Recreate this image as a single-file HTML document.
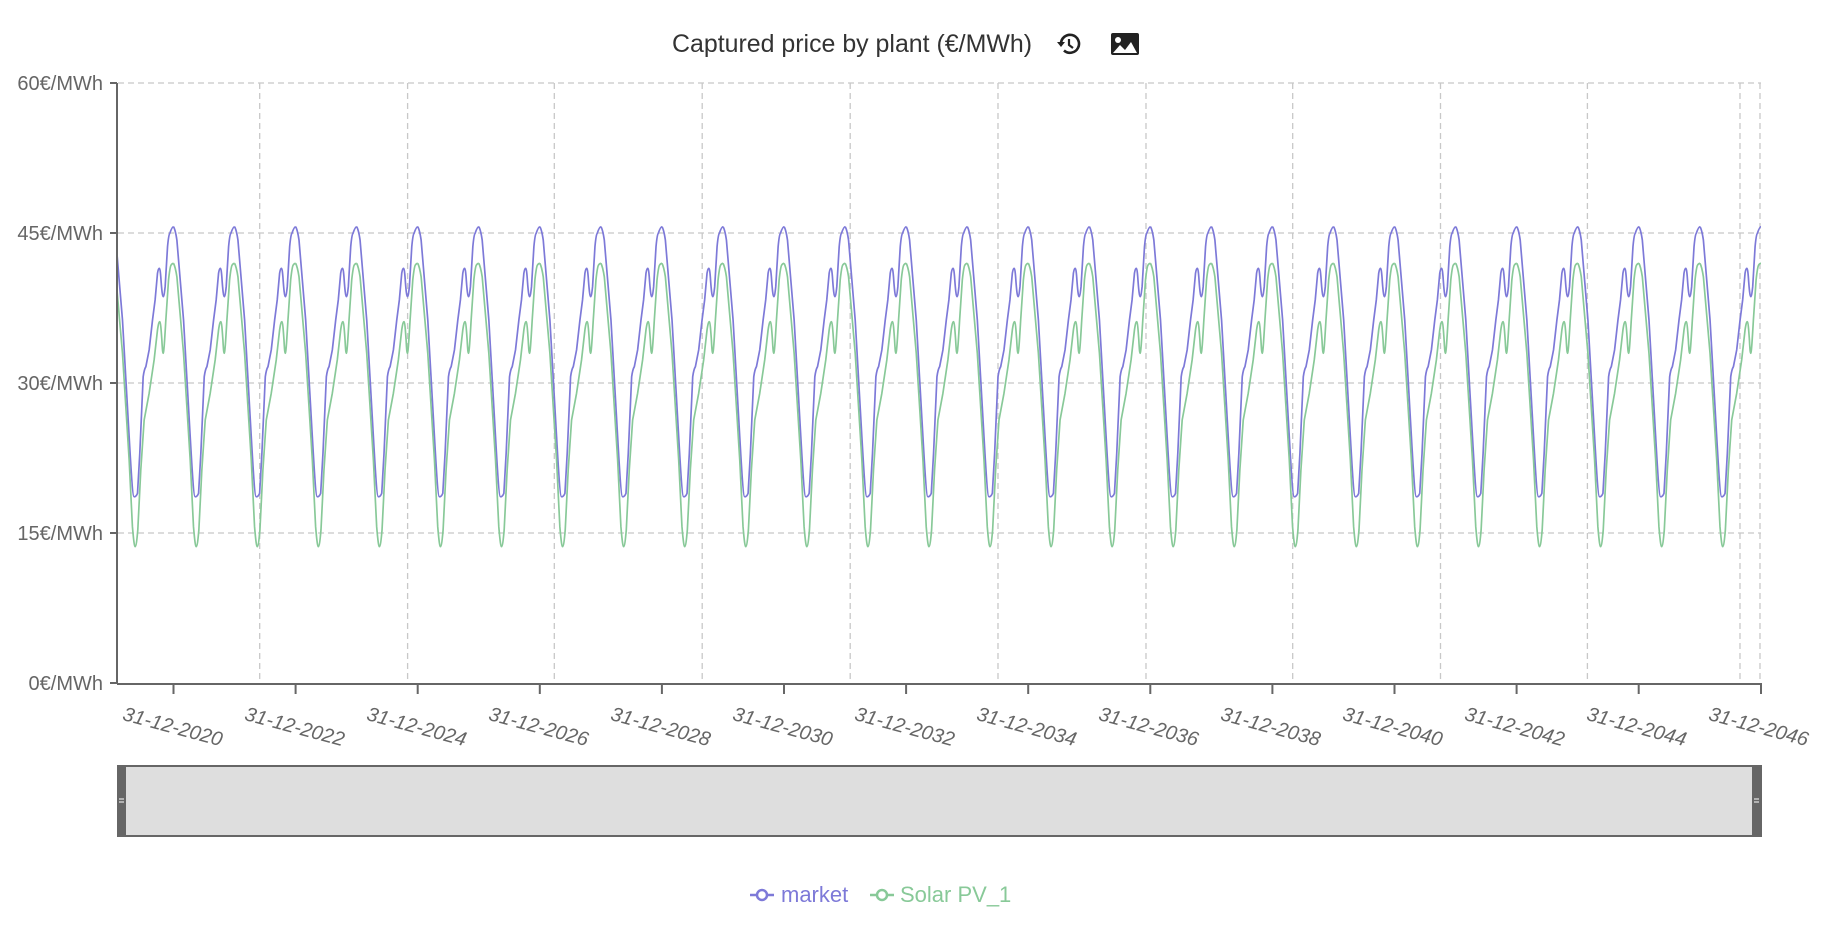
<!DOCTYPE html>
<html><head><meta charset="utf-8"><style>
html,body{margin:0;padding:0;background:#fff;}
svg{display:block;font-family:"Liberation Sans",sans-serif;}
</style></head><body>
<svg width="1826" height="926" viewBox="0 0 1826 926" xmlns="http://www.w3.org/2000/svg">
<defs>
<clipPath id="pc"><rect x="118" y="60" width="1643" height="640"/></clipPath>
<path id="m" fill="none" stroke="#7d79d8" stroke-width="1.7" stroke-linejoin="round" d="M0,226.7 C1.5,229 2.5,234 3.4,240 L10.1,320 L16.8,436.7 C19,475 20.5,496.7 21.8,496.7 C23.5,497 24.5,495 25.2,493.3 L27.5,453.3 L30.9,376.7 C32,369 32.8,368 33.6,366.7 L36.9,350 L40.3,320 L42.9,300 L45.3,273.3 C46,269 46.5,268.3 47,268.3 C47.8,268.5 48.2,272 48.6,276.7 C49.5,290 50.3,296.7 51,296.7 C51.8,296.7 52.4,292 53,286.7 L55.4,246.7 C56.3,237 57,234 57.7,233.3 C59.5,228 60.5,226.7 61.4,226.7"/>
<path id="s" fill="none" stroke="#88c998" stroke-width="1.7" stroke-linejoin="round" d="M0,263.3 C1.5,266 2.5,271 3.4,276.7 L10.1,353.3 L16.8,460 L20.1,526.7 C21.5,543 22.2,546.7 22.8,546.7 C23.8,546.7 24.6,540 25.5,530 L28.5,470 L31.9,420 L36.9,393.3 L41.9,360 L45.3,330 C46.3,323 47,321.7 47.6,321.7 C48.5,322 49.1,332 49.7,340 C50.2,350 50.6,353.3 51,353.3 C51.8,353.3 52.8,335 53.7,320 L56.4,280 C57.5,270 58.2,266 59,265 C60,263.5 60.7,263.3 61.4,263.3"/>
</defs>
<text x="852" y="52" text-anchor="middle" font-size="25" fill="#333" textLength="360" lengthAdjust="spacingAndGlyphs">Captured price by plant (€/MWh)</text>
<g transform="translate(1069,44)" fill="none" stroke="#222" stroke-width="2.6">
<path d="M-8,0 A9,9 0 1 1 -5,6.5"/>
<path d="M0,-5 L0,1 L4,4" stroke-width="2.2"/>
<path d="M-12,-2 L-8,3 L-4,-2" fill="#222" stroke="none"/>
</g>
<g transform="translate(1125,44)">
<rect x="-14" y="-11" width="28" height="22" rx="2" fill="#222"/>
<circle cx="-7" cy="-4" r="3" fill="#fff"/>
<path d="M-12,9 L-5,1 L0,6 L6,-2 L12,9 Z" fill="#fff"/>
</g>
<g stroke="#c8c8c8" stroke-width="1.3" stroke-dasharray="6,4">
<line x1="118" y1="83" x2="1761" y2="83"/>
<line x1="118" y1="233" x2="1761" y2="233"/>
<line x1="118" y1="383" x2="1761" y2="383"/>
<line x1="118" y1="533" x2="1761" y2="533"/>
<line x1="259.7" y1="83" x2="259.7" y2="683"/>
<line x1="407.6" y1="83" x2="407.6" y2="683"/>
<line x1="554.3" y1="83" x2="554.3" y2="683"/>
<line x1="702.2" y1="83" x2="702.2" y2="683"/>
<line x1="850.2" y1="83" x2="850.2" y2="683"/>
<line x1="998" y1="83" x2="998" y2="683"/>
<line x1="1146" y1="83" x2="1146" y2="683"/>
<line x1="1292.7" y1="83" x2="1292.7" y2="683"/>
<line x1="1440.5" y1="83" x2="1440.5" y2="683"/>
<line x1="1587.4" y1="83" x2="1587.4" y2="683"/>
<line x1="1740" y1="83" x2="1740" y2="683"/>
<line x1="1760" y1="83" x2="1760" y2="683"/>
</g>
<g clip-path="url(#pc)">
<g transform="translate(112.44,0) scale(0.99446,1)">
<use href="#m" x="0"/><use href="#m" x="61.4"/><use href="#m" x="122.8"/><use href="#m" x="184.2"/><use href="#m" x="245.6"/><use href="#m" x="307"/><use href="#m" x="368.4"/><use href="#m" x="429.8"/><use href="#m" x="491.2"/><use href="#m" x="552.6"/><use href="#m" x="614"/><use href="#m" x="675.4"/><use href="#m" x="736.8"/><use href="#m" x="798.2"/><use href="#m" x="859.6"/><use href="#m" x="921"/><use href="#m" x="982.4"/><use href="#m" x="1043.8"/><use href="#m" x="1105.2"/><use href="#m" x="1166.6"/><use href="#m" x="1228"/><use href="#m" x="1289.4"/><use href="#m" x="1350.8"/><use href="#m" x="1412.2"/><use href="#m" x="1473.6"/><use href="#m" x="1535"/><use href="#m" x="1596.4"/>
<use href="#s" x="0"/><use href="#s" x="61.4"/><use href="#s" x="122.8"/><use href="#s" x="184.2"/><use href="#s" x="245.6"/><use href="#s" x="307"/><use href="#s" x="368.4"/><use href="#s" x="429.8"/><use href="#s" x="491.2"/><use href="#s" x="552.6"/><use href="#s" x="614"/><use href="#s" x="675.4"/><use href="#s" x="736.8"/><use href="#s" x="798.2"/><use href="#s" x="859.6"/><use href="#s" x="921"/><use href="#s" x="982.4"/><use href="#s" x="1043.8"/><use href="#s" x="1105.2"/><use href="#s" x="1166.6"/><use href="#s" x="1228"/><use href="#s" x="1289.4"/><use href="#s" x="1350.8"/><use href="#s" x="1412.2"/><use href="#s" x="1473.6"/><use href="#s" x="1535"/><use href="#s" x="1596.4"/>
</g>
</g>
<g stroke="#666" stroke-width="2" fill="none">
<line x1="117" y1="83" x2="117" y2="684"/>
<line x1="117" y1="684" x2="1762" y2="684"/>
<line x1="110" y1="83" x2="117" y2="83"/>
<line x1="110" y1="233" x2="117" y2="233"/>
<line x1="110" y1="383" x2="117" y2="383"/>
<line x1="110" y1="533" x2="117" y2="533"/>
<line x1="110" y1="683" x2="117" y2="683"/>
</g>
<g stroke="#666" stroke-width="2">
<line x1="173.5" y1="684" x2="173.5" y2="694"/><line x1="295.6" y1="684" x2="295.6" y2="694"/><line x1="417.7" y1="684" x2="417.7" y2="694"/><line x1="539.8" y1="684" x2="539.8" y2="694"/><line x1="661.9" y1="684" x2="661.9" y2="694"/><line x1="784" y1="684" x2="784" y2="694"/><line x1="906.1" y1="684" x2="906.1" y2="694"/><line x1="1028.2" y1="684" x2="1028.2" y2="694"/><line x1="1150.3" y1="684" x2="1150.3" y2="694"/><line x1="1272.4" y1="684" x2="1272.4" y2="694"/><line x1="1394.5" y1="684" x2="1394.5" y2="694"/><line x1="1516.6" y1="684" x2="1516.6" y2="694"/><line x1="1638.7" y1="684" x2="1638.7" y2="694"/><line x1="1761" y1="684" x2="1761" y2="694"/>
</g>
<g font-size="20" fill="#666" text-anchor="end">
<text x="103" y="90">60€/MWh</text>
<text x="103" y="240">45€/MWh</text>
<text x="103" y="390">30€/MWh</text>
<text x="103" y="540">15€/MWh</text>
<text x="103" y="690">0€/MWh</text>
</g>
<g font-size="20" fill="#666" text-anchor="middle" font-style="italic">
<text transform="translate(171,733) rotate(15)">31-12-2020</text>
<text transform="translate(293,733) rotate(15)">31-12-2022</text>
<text transform="translate(415,733) rotate(15)">31-12-2024</text>
<text transform="translate(537,733) rotate(15)">31-12-2026</text>
<text transform="translate(659,733) rotate(15)">31-12-2028</text>
<text transform="translate(781,733) rotate(15)">31-12-2030</text>
<text transform="translate(903,733) rotate(15)">31-12-2032</text>
<text transform="translate(1025,733) rotate(15)">31-12-2034</text>
<text transform="translate(1147,733) rotate(15)">31-12-2036</text>
<text transform="translate(1269,733) rotate(15)">31-12-2038</text>
<text transform="translate(1391,733) rotate(15)">31-12-2040</text>
<text transform="translate(1513,733) rotate(15)">31-12-2042</text>
<text transform="translate(1635,733) rotate(15)">31-12-2044</text>
<text transform="translate(1757,733) rotate(15)">31-12-2046</text>
</g>
<rect x="118" y="766" width="1643" height="70" fill="#dedede" stroke="#666" stroke-width="2"/>
<rect x="117" y="765" width="9" height="72" fill="#666"/>
<rect x="1752" y="765" width="9" height="72" fill="#666"/>
<g stroke="#fff" stroke-width="1"><line x1="119" y1="799" x2="124" y2="799"/><line x1="119" y1="802" x2="124" y2="802"/><line x1="1754" y1="799" x2="1759" y2="799"/><line x1="1754" y1="802" x2="1759" y2="802"/></g>
<g stroke-width="2.5" fill="#fff">
<line x1="750" y1="895" x2="774" y2="895" stroke="#7d79d8"/><circle cx="762" cy="895" r="5" stroke="#7d79d8"/>
<line x1="870" y1="895" x2="894" y2="895" stroke="#88c998"/><circle cx="882" cy="895" r="5" stroke="#88c998"/>
</g>
<text x="781" y="902" font-size="22" fill="#7d79d8">market</text>
<text x="900" y="902" font-size="22" fill="#88c998">Solar PV_1</text>
</svg>
</body></html>
